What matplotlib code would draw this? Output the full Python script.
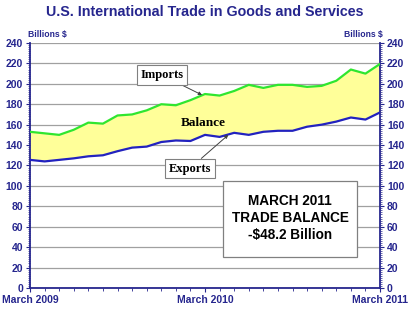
import matplotlib
matplotlib.use("Agg")
import matplotlib.pyplot as plt
from matplotlib.patches import Rectangle
from matplotlib.ticker import MultipleLocator

# monthly values, March 2009 .. March 2011 (billions of dollars)
months = list(range(25))
imports = [153, 151.5, 150, 155, 162, 161, 169, 170, 174, 180, 179, 184, 190,
           188.5, 193, 199, 196, 199, 199, 197, 198, 203, 214, 210, 219.5]
exports = [125.5, 124, 125.5, 127, 129, 130, 134, 137.5, 138.5, 143, 144.5, 144, 150,
           148, 152, 150, 153, 154, 154, 158, 160, 163, 167, 165, 172]
xtick_pos = [0, 12, 24]
xtick_labels = ["March 2009", "March 2010", "March 2011"]

NAVY = "#26268e"
SANS = ["Liberation Sans", "DejaVu Sans"]
SERIF = ["Liberation Serif", "DejaVu Serif"]

fig = plt.figure(figsize=(4.1, 3.23), dpi=100)
ax = fig.add_axes([0.0732, 0.1084, 0.8537, 0.7585])

ax.fill_between(months, exports, imports, color="#ffff99", lw=0, zorder=2)
ax.plot(months, imports, color="#2fe62f", lw=1.6, zorder=3)
ax.plot(months, exports, color="#2222c0", lw=1.6, zorder=3)

ax.set_xlim(0, 24)
ax.set_ylim(0, 240)
ax.yaxis.set_major_locator(MultipleLocator(20))
ax.yaxis.set_minor_locator(MultipleLocator(2))
ax.grid(axis="y", color="#a0a0a0", lw=0.9, zorder=1)
ax.set_axisbelow(True)
ax.set_xticks(xtick_pos)
ax.set_xticklabels(xtick_labels)
ax.xaxis.set_minor_locator(MultipleLocator(1))

for s in ("left", "right", "bottom"):
    ax.spines[s].set_color(NAVY)
    ax.spines[s].set_linewidth(1.3)
ax.spines["top"].set_visible(False)

ax.tick_params(axis="y", which="both", left=True, right=True, labelleft=True,
               labelright=True, color=NAVY, direction="out")
ax.tick_params(axis="y", which="major", length=3, pad=2)
ax.tick_params(axis="y", which="minor", length=1.5, width=0.5)
ax.tick_params(axis="x", which="both", color=NAVY, direction="out")
ax.tick_params(axis="x", which="major", length=3, pad=2)
ax.tick_params(axis="x", which="minor", length=2, width=0.6)
for lab in ax.get_yticklabels() + ax.get_xticklabels():
    lab.set_fontfamily(SANS)
    lab.set_fontweight("bold")
    lab.set_color(NAVY)
    lab.set_fontsize(7.5)

fig.text(0.5, 0.962, "U.S. International Trade in Goods and Services", ha="center",
         va="center", fontsize=10.3, fontweight="bold", color=NAVY, family=SANS)
fig.text(0.068, 0.893, "Billions $", ha="left", va="center", fontsize=6.2,
         fontweight="bold", color=NAVY, family=SANS)
fig.text(0.934, 0.893, "Billions $", ha="right", va="center", fontsize=6.2,
         fontweight="bold", color=NAVY, family=SANS)

box = dict(boxstyle="square,pad=0.3", fc="white", ec="#808080", lw=0.8)
arrow = dict(arrowstyle="-|>", color="#404040", lw=0.7, mutation_scale=5,
             shrinkA=0, shrinkB=0)
ax.annotate("Imports", xy=(11.8, 189), xytext=(9.05, 208.5), ha="center",
            va="center", fontsize=9, fontweight="bold", family=SERIF,
            bbox=box, arrowprops=arrow, zorder=5)
ax.annotate("Exports", xy=(13.6, 150), xytext=(10.95, 117), ha="center",
            va="center", fontsize=9, fontweight="bold", family=SERIF,
            bbox=box, arrowprops=arrow, zorder=5)
ax.text(11.9, 161.5, "Balance", ha="center", va="center", fontsize=9.5,
        fontweight="bold", family=SERIF, zorder=5)

ax.add_patch(Rectangle((13.26, 30.7), 9.19, 74.1, fc="white", ec="#808080",
                       lw=0.9, zorder=5))
ax.text(17.85, 68.5, "MARCH 2011\nTRADE BALANCE\n-$48.2 Billion", ha="center",
        va="center", fontsize=9.8, fontweight="bold", family=SANS,
        linespacing=1.3, zorder=6)

fig.savefig("out.png", dpi=100)
